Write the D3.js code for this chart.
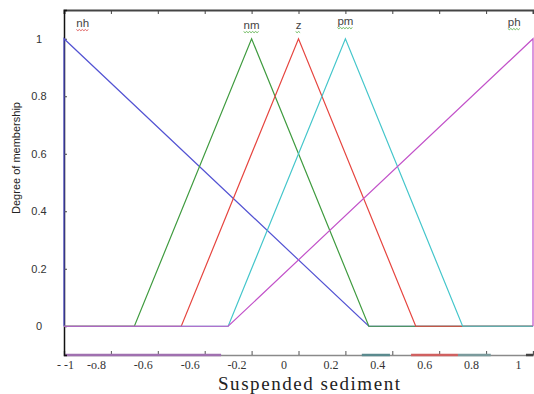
<!DOCTYPE html>
<html>
<head>
<meta charset="utf-8">
<script src="https://cdn.jsdelivr.net/npm/d3@7"></script>
<style>
  html, body { margin: 0; padding: 0; background: #fff; }
  svg { display: block; }
</style>
</head>
<body>
<svg id="chart" width="534" height="394"></svg>
<script>
// Membership function names and their breakpoints (x, degree)
const setNames = ["nh", "nm", "z", "pm", "ph"];
const nhPoints = [[-1, 0], [-1, 1], [0.3, 0], [1, 0]];
const nmPoints = [[-1, 0], [-0.7, 0], [-0.2, 1], [0.3, 0], [1, 0]];
const zPoints  = [[-1, 0], [-0.5, 0], [0, 1], [0.5, 0], [1, 0]];
const pmPoints = [[-1, 0], [-0.3, 0], [0.2, 1], [0.7, 0], [1, 0]];
const phPoints = [[-1, 0], [-0.3, 0], [1, 1], [1, 0]];
// x position of each set's name above the peak
const namePos = [-0.92, -0.2, 0, 0.2, 0.92];

const xTickValues = [-1, -0.8, -0.6, -0.4, -0.2, 0, 0.2, 0.4, 0.6, 0.8, 1];
const xTickLabels = ["- -1", "-o.8", "-0.6", "-0.6", "-0.2", "0", "0.2", "0.4", "0.6", "0.8", "1"];
const yTickValues = [0, 0.2, 0.4, 0.6, 0.8, 1];
const yTickLabels = ["0", "0.2", "0.4", "0.6", "0.8", "1"];

const colors = ["#5353d3", "#3f9b3f", "#e6453f", "#44c6cb", "#c252c9"];
const squiggleColors = ["#d84040", "#4caa3a", "#4caa3a", "#4caa3a", "#4caa3a"];

const svg = d3.select("#chart");
const plotLeft = 64, plotRight = 533, plotTop = 10, plotBottom = 355;

const x = d3.scaleLinear().domain([-1, 1]).range([plotLeft, plotRight]);
const y = d3.scaleLinear().domain([-0.1, 1.1]).range([plotBottom, plotTop]);

// Bottom axis line with inward ticks
const xAxis = d3.axisBottom(x).tickValues(xTickValues).tickSize(-4)
  .tickFormat((d, i) => xTickLabels[i]);
const gx = svg.append("g").attr("transform", `translate(0,${plotBottom})`).call(xAxis);
gx.select(".domain").attr("stroke", "#8a8a8a").attr("stroke-width", 1.5);
gx.selectAll(".tick line").attr("stroke", "#555");
gx.selectAll(".tick text")
  .attr("font-family", "Liberation Serif, Times New Roman, serif")
  .attr("font-size", 12).attr("fill", "#333")
  .attr("y", 5)
  .attr("dx", (d, i) => i === 0 ? 1 : -15);

// Coloured strokes lying on the bottom axis
const axisStrokes = [
  { from: -1, to: -0.33, c: "#a070b0" },
  { from: 0.27, to: 0.39, c: "#5a8a8e" },
  { from: 0.48, to: 0.68, c: "#d06060" },
  { from: 0.68, to: 0.82, c: "#7a9a9c" },
  { from: 0.97, to: 1, c: "#444" }
];
svg.append("g").selectAll("line").data(axisStrokes).join("line")
  .attr("x1", d => x(d.from)).attr("x2", d => x(d.to))
  .attr("y1", plotBottom).attr("y2", plotBottom)
  .attr("stroke", d => d.c).attr("stroke-width", 2.5);

// Top frame with inward ticks
const gt = svg.append("g").attr("transform", `translate(0,${plotTop})`)
  .call(d3.axisTop(x).tickValues(xTickValues).tickSize(-4).tickFormat(""));
gt.select(".domain").attr("stroke", "#444").attr("stroke-width", 2);
gt.selectAll(".tick line").attr("stroke", "#444");

// Left axis
const gy = svg.append("g").attr("transform", `translate(${plotLeft},0)`)
  .call(d3.axisLeft(y).tickValues(yTickValues).tickSize(-3)
    .tickFormat((d, i) => yTickLabels[i]));
gy.select(".domain").attr("stroke", "#111").attr("stroke-width", 1.5);
gy.selectAll(".tick line").attr("stroke", "#444");
gy.selectAll(".tick text")
  .attr("font-family", "Liberation Sans, Arial, sans-serif")
  .attr("font-size", 11).attr("fill", "#333")
  .attr("text-anchor", "middle").attr("x", -25);

// Membership curves
const line = d3.line().x(d => x(d[0])).y(d => y(d[1]));
const allPoints = [nhPoints, nmPoints, zPoints, pmPoints, phPoints];
svg.append("g").selectAll("path").data(allPoints).join("path")
  .attr("d", line)
  .attr("fill", "none")
  .attr("stroke", (d, i) => colors[i])
  .attr("stroke-width", 1.2);

// Set names with wavy underlines
const nameY = [27, 29, 29, 25, 26];
const names = svg.append("g");
setNames.forEach((n, i) => {
  const cx = x(namePos[i]);
  const t = names.append("text")
    .attr("x", cx).attr("y", nameY[i])
    .attr("text-anchor", "middle")
    .attr("font-family", "Liberation Sans, Arial, sans-serif")
    .attr("font-size", 11.5).attr("fill", "#444")
    .text(n);
  const w = t.node().getComputedTextLength();
  const x0 = cx - w / 2, x1 = cx + w / 2;
  const pts = [];
  for (let k = 0, xx = x0; xx <= x1 + 0.01; xx += 1.5, k++) {
    pts.push([xx, nameY[i] + 2.5 + (k % 2 ? 1.2 : 0)]);
  }
  names.append("path")
    .attr("d", d3.line()(pts))
    .attr("fill", "none")
    .attr("stroke", squiggleColors[i])
    .attr("stroke-width", 0.8);
});

// Axis titles
svg.append("text")
  .attr("transform", "translate(20,158) rotate(-90)")
  .attr("text-anchor", "middle")
  .attr("font-family", "Liberation Sans, Arial, sans-serif")
  .attr("font-size", 11).attr("fill", "#222")
  .text("Degree of membership");

svg.append("text")
  .attr("x", 309).attr("y", 390)
  .attr("text-anchor", "middle")
  .attr("font-family", "Liberation Serif, Times New Roman, serif")
  .attr("font-size", 19).attr("fill", "#222")
  .attr("textLength", 182).attr("lengthAdjust", "spacing")
  .text("Suspended sediment");
</script>
</body>
</html>
